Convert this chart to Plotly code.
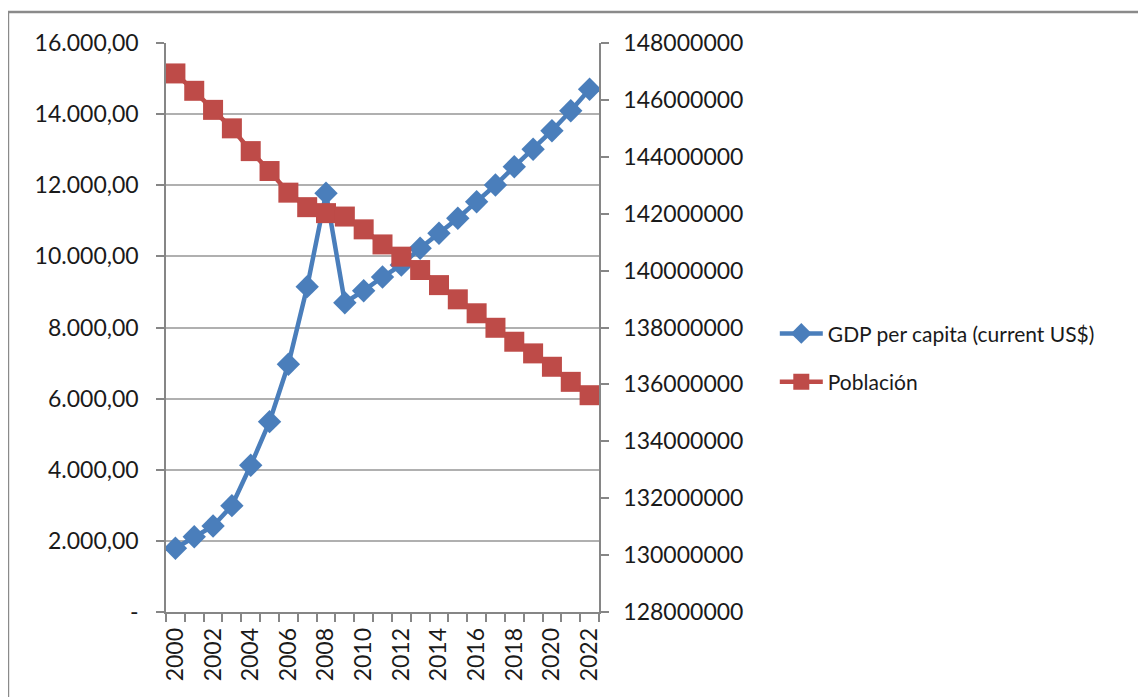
import plotly.graph_objects as go

years = list(range(2000, 2023))
gdp_per_capita = [1791, 2118, 2418, 2990, 4125, 5352, 6965, 9148, 11773, 8698,
                  9035, 9420, 9758, 10227, 10649, 11071, 11538, 12007, 12522,
                  13011, 13534, 14097, 14698]
poblacion = [146930000, 146320000, 145650000, 145000000, 144200000, 143500000,
             142740000, 142230000, 142020000, 141900000, 141450000, 140920000,
             140490000, 140020000, 139490000, 138990000, 138500000, 137990000,
             137500000, 137090000, 136620000, 136090000, 135620000]

left_tickvals = [0, 2000, 4000, 6000, 8000, 10000, 12000, 14000, 16000]
left_ticktext = ["-", "2.000,00", "4.000,00", "6.000,00", "8.000,00",
                 "10.000,00", "12.000,00", "14.000,00", "16.000,00"]
right_tickvals = [128000000 + 2000000 * i for i in range(11)]
x_label_years = [y for y in years if y % 2 == 0]

FONT = "Lato"
BLUE = "#4a7ebb"
RED = "#be4b48"
AXIS = "#868686"
GRID = "#b0b0b0"
TXT = "#1a1a1a"

fig = go.Figure()
fig.add_trace(go.Scatter(
    x=years, y=gdp_per_capita, name="GDP per capita (current US$)",
    mode="lines+markers", yaxis="y",
    line=dict(color=BLUE, width=4.5),
    marker=dict(symbol="diamond", size=18, color=BLUE),
    legendgroup="a",
))
fig.add_trace(go.Scatter(
    x=years, y=poblacion, name="Población",
    mode="lines+markers", yaxis="y2",
    line=dict(color=RED, width=4.5),
    marker=dict(symbol="square", size=20, color=RED),
    legendgroup="b",
))

fig.update_layout(
    width=1146, height=697,
    margin=dict(l=158, r=555, t=35, b=93),
    paper_bgcolor="white", plot_bgcolor="white",
    font=dict(family=FONT, size=23, color=TXT),
    showlegend=True,
    legend=dict(x=1.406, y=0.525, xanchor="left", yanchor="top",
                font=dict(family=FONT, size=21, color=TXT),
                itemwidth=43,
                tracegroupgap=18, bgcolor="rgba(0,0,0,0)"),
    xaxis=dict(
        range=[1999.5, 2022.5],
        tickmode="array", tickvals=x_label_years,
        ticktext=[str(y) for y in x_label_years],
        tickangle=-90, ticks="", showgrid=False, zeroline=False,
        showline=True, linecolor=AXIS, linewidth=1.5,
        tickfont=dict(family=FONT, size=23, color=TXT),
        ticklabelstandoff=5,
        minor=dict(ticks="outside", tick0=1999.5, dtick=1, ticklen=8,
                   tickcolor=AXIS, tickwidth=1.5, showgrid=False),
    ),
    yaxis=dict(
        range=[0, 16000], tickmode="array", tickvals=left_tickvals,
        ticktext=left_ticktext, ticks="outside", ticklen=8,
        tickcolor=AXIS, tickwidth=1.5,
        showline=True, linecolor=AXIS, linewidth=1.5,
        showgrid=True, gridcolor=GRID, gridwidth=1.5, zeroline=False,
        tickfont=dict(family=FONT, size=23, color=TXT),
        ticklabelstandoff=13,
    ),
    yaxis2=dict(
        range=[128000000, 148000000], overlaying="y", side="right",
        tickmode="array", tickvals=right_tickvals,
        ticktext=[str(v) for v in right_tickvals],
        ticks="outside", ticklen=8, tickcolor=AXIS, tickwidth=1.5,
        showline=True, linecolor=AXIS, linewidth=1.5,
        showgrid=False, zeroline=False,
        tickfont=dict(family=FONT, size=23, color=TXT),
        ticklabelstandoff=10,
    ),
)

# outer chart frame (cropped at right and bottom)
fig.add_shape(type="line", xref="paper", yref="paper",
              x0=-0.365, x1=2.4, y0=1.0545, y1=1.0545,
              line=dict(color="#8a8a8a", width=2.5))
fig.add_shape(type="line", xref="paper", yref="paper",
              x0=-0.365, x1=-0.365, y0=1.0545, y1=-0.3,
              line=dict(color="#8a8a8a", width=2.5))

fig.write_html("out.html")
